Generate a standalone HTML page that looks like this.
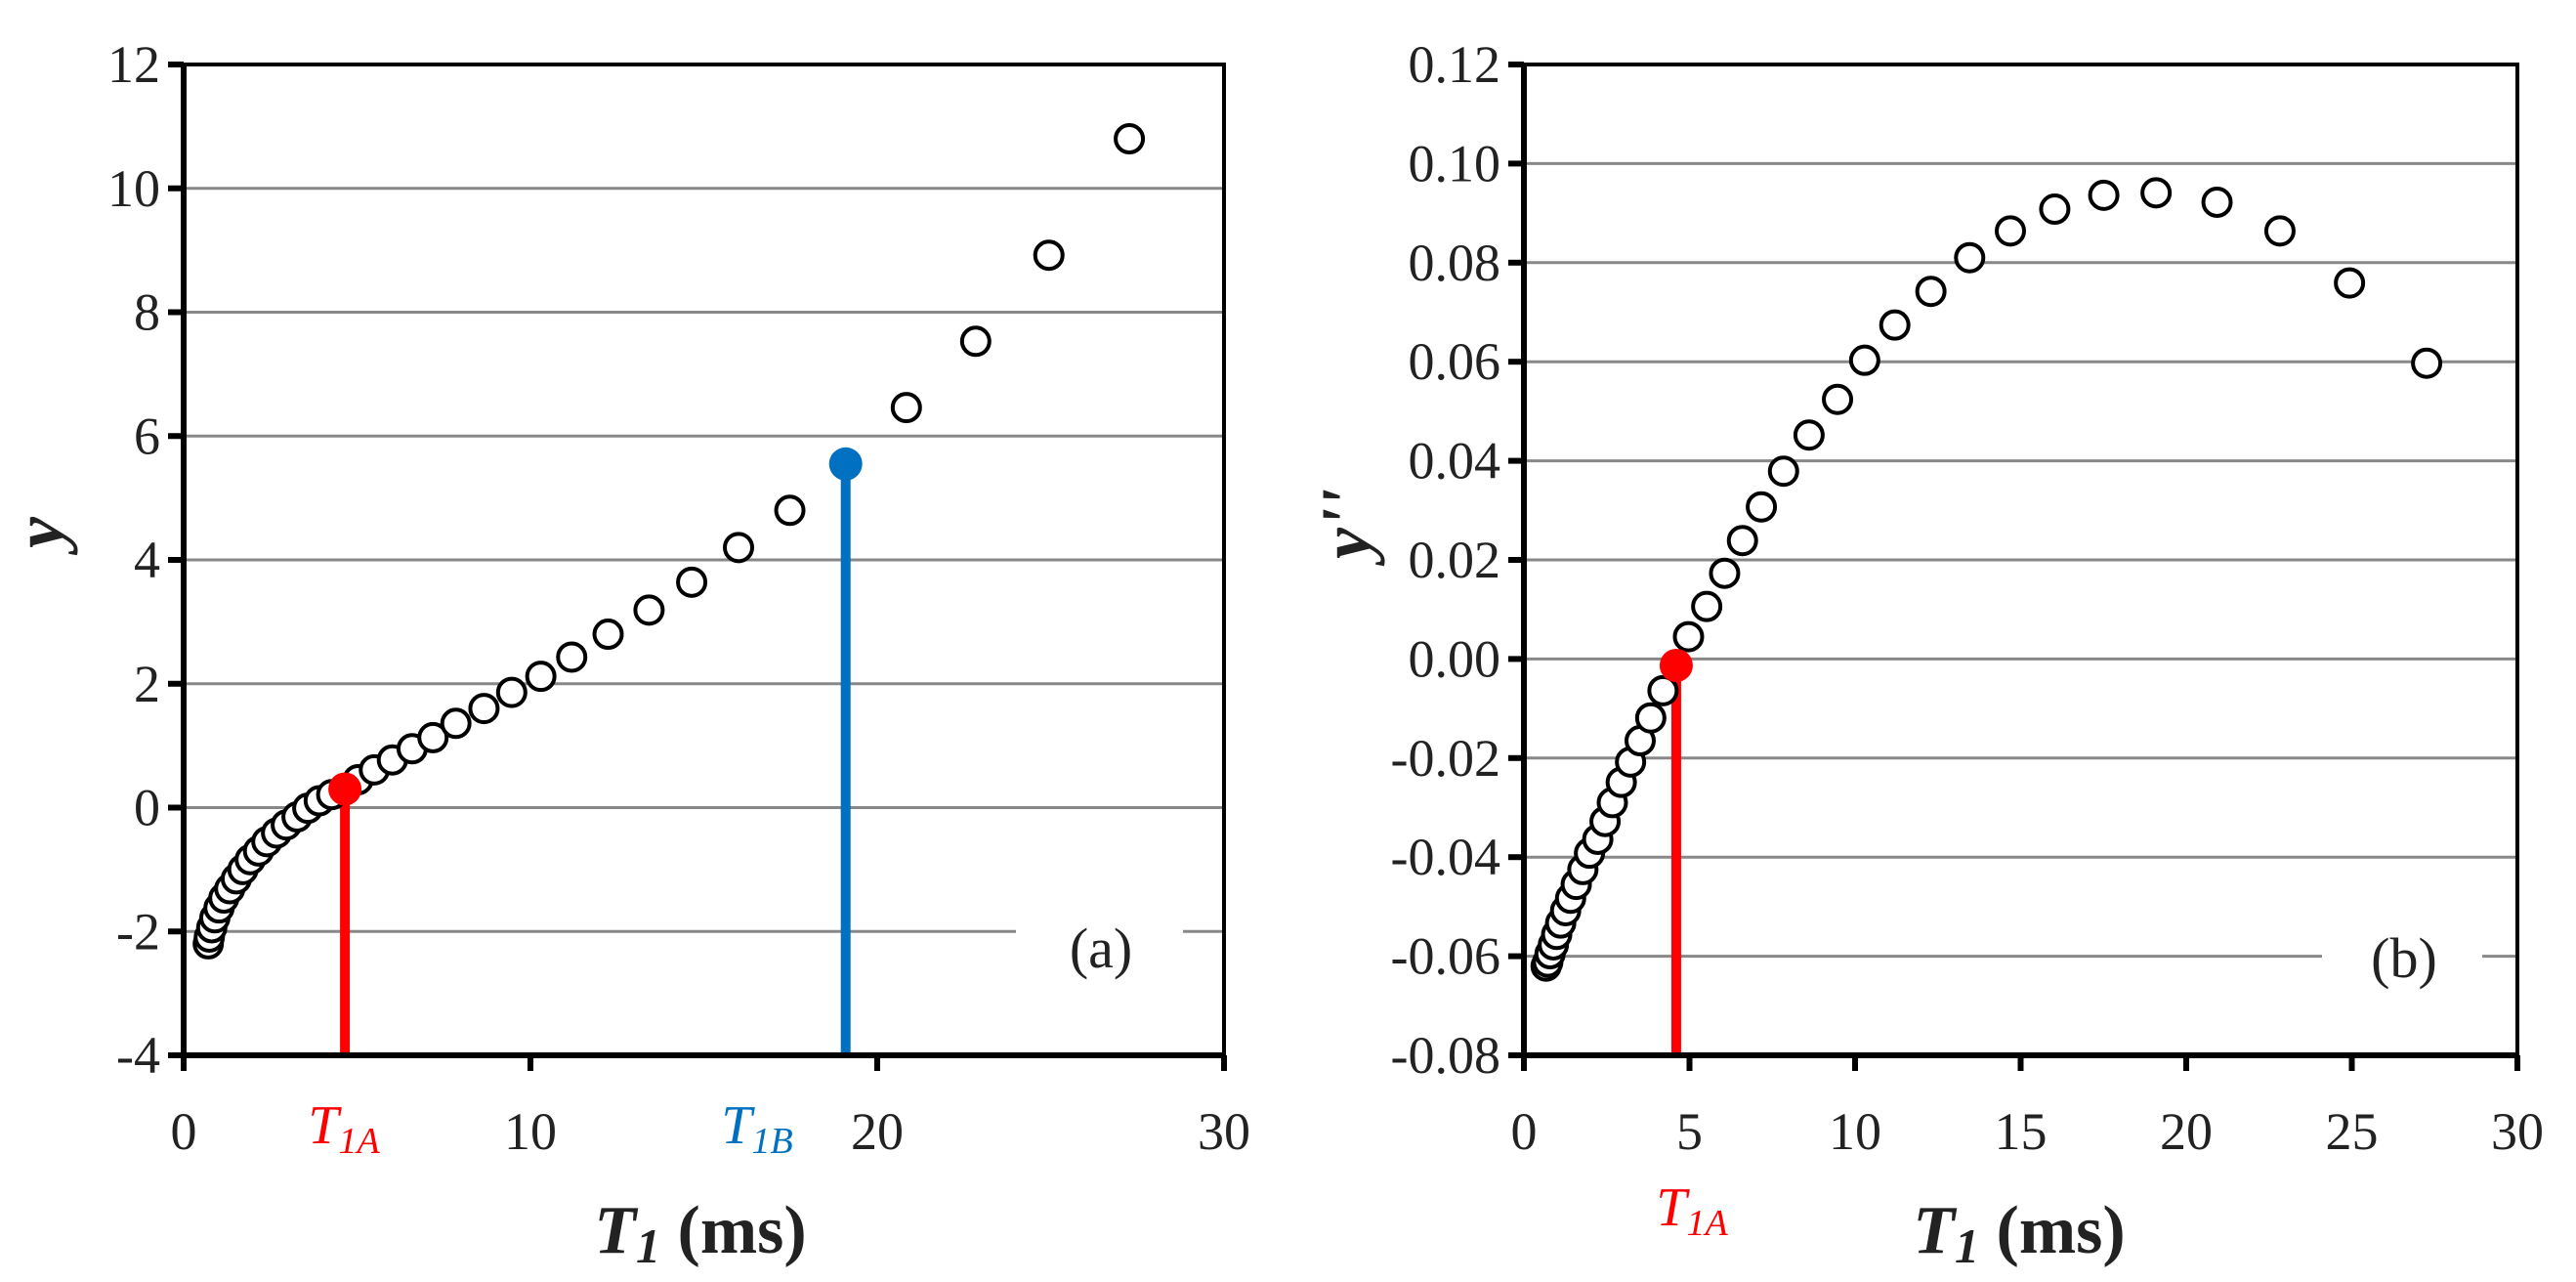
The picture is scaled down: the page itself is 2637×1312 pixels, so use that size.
<!DOCTYPE html>
<html><head><meta charset="utf-8"><style>
html,body{margin:0;padding:0;background:#fff;}
svg{display:block;font-family:"Liberation Serif",serif;}
</style></head><body>
<svg id="fig" width="2637" height="1312" viewBox="0 0 2637 1312" xmlns="http://www.w3.org/2000/svg"></svg>
<script>
// Chart (a) data
const aT = [0.71,0.74,0.81,0.9,1.02,1.16,1.33,1.52,1.71,1.92,2.16,2.4,2.68,2.96,3.27,3.58,3.91,4.27,5.03,5.5,6.02,6.59,7.19,7.85,8.66,9.46,10.3,11.19,12.24,13.42,14.65,16.0,17.48,20.84,22.84,24.95,27.27];
const aY = [-2.2,-2.09,-1.94,-1.78,-1.62,-1.46,-1.31,-1.15,-1.0,-0.84,-0.7,-0.55,-0.41,-0.28,-0.15,-0.01,0.11,0.21,0.45,0.61,0.77,0.95,1.13,1.36,1.6,1.86,2.12,2.43,2.8,3.19,3.64,4.2,4.8,6.46,7.53,8.92,10.8];
const aRedT = [4.65], aRedY = [0.30];
const aBlueT = [19.09], aBlueY = [5.55];
const aYTicks = [-4,-2,0,2,4,6,8,10,12];
const aXTicks = [0,10,20,30];
// Chart (b) data
const bT = [0.67,0.72,0.79,0.89,0.99,1.11,1.26,1.41,1.58,1.78,1.98,2.23,2.45,2.67,2.94,3.22,3.51,3.83,4.2,4.97,5.52,6.06,6.6,7.17,7.84,8.61,9.47,10.29,11.2,12.29,13.46,14.69,16.03,17.51,19.09,20.93,22.83,24.93,27.26];
const bY = [-0.062,-0.0612,-0.0595,-0.0577,-0.0556,-0.0533,-0.0508,-0.0483,-0.0455,-0.0425,-0.0392,-0.0364,-0.0328,-0.029,-0.0249,-0.0208,-0.0165,-0.0119,-0.0064,0.0045,0.0106,0.0173,0.0239,0.0307,0.0379,0.0452,0.0524,0.0603,0.0674,0.0742,0.081,0.0864,0.0908,0.0936,0.0941,0.0922,0.0864,0.0759,0.0597];
const bRedT = [4.6], bRedY = [-0.0013];
const bYTicks = [-0.08,-0.06,-0.04,-0.02,0,0.02,0.04,0.06,0.08,0.10,0.12];
const bXTicks = [0,5,10,15,20,25,30];

const NS="http://www.w3.org/2000/svg";
const svg=document.getElementById('fig');
function mk(tag,attrs,parent){const e=document.createElementNS(NS,tag);for(const k in attrs)e.setAttribute(k,attrs[k]);(parent||svg).appendChild(e);return e;}

function chart(cfg){
  const g=mk('g',{});
  
  
  const X=v=>cfg.x0+(v-cfg.xmin)/(cfg.xmax-cfg.xmin)*(cfg.x1-cfg.x0);
  const Y=v=>cfg.y0-(v-cfg.ymin)/(cfg.ymax-cfg.ymin)*(cfg.y0-cfg.y1);
  cfg.yTicks.forEach((t,i)=>{
    if(i===0||i===cfg.yTicks.length-1)return;
    const yy=Y(t);
    if(Math.abs(t-cfg.gapAt)<1e-9){
      let l=mk('line',{x1:cfg.x0,x2:cfg.gap[0],y1:yy,y2:yy,stroke:'#888','stroke-width':3},g);
      
      
      l=mk('line',{x1:cfg.gap[1],x2:cfg.x1,y1:yy,y2:yy,stroke:'#888','stroke-width':3},g);
      
      
    } else {
      const l=mk('line',{x1:cfg.x0,x2:cfg.x1,y1:yy,y2:yy,stroke:'#888','stroke-width':3},g);
      
      
    }
  });
  const br=mk('path',{d:`M${cfg.x0} ${cfg.y1}H${cfg.x1}V${cfg.y0}`,fill:'none',stroke:'#000','stroke-width':4},g);
  
  
  cfg.yTicks.forEach(t=>{
    const yy=Y(t);
    const tk=mk('line',{x1:cfg.x0-16,x2:cfg.x0,y1:yy,y2:yy,stroke:'#000','stroke-width':6},g);
    
    
    const tx=mk('text',{x:cfg.x0-24,y:yy+18,'text-anchor':'end','font-size':54,fill:'#222'},g);
    
    
    tx.textContent=cfg.yFmt(t);
  });
  cfg.xTicks.forEach(t=>{
    const xx=X(t);
    const tk=mk('line',{x1:xx,x2:xx,y1:cfg.y0,y2:cfg.y0+16,stroke:'#000','stroke-width':6},g);
    
    
    const tx=mk('text',{x:xx,y:cfg.y0+96,'text-anchor':'middle','font-size':54,fill:'#222'},g);
    
    
    tx.textContent=t;
  });
  cfg.stems.forEach(s=>{
    s.t.forEach((tv,i)=>{
      const st=mk('line',{x1:X(tv),x2:X(tv),y1:cfg.y0,y2:Y(s.y[i]),stroke:s.color,'stroke-width':10},g);
      
      
    });
  });
  const ax=mk('path',{d:`M${cfg.x0} ${cfg.y1-2}V${cfg.y0}H${cfg.x1+2}`,fill:'none',stroke:'#000','stroke-width':6},g);
  
  
  cfg.T.forEach((tv,i)=>{
    const c=mk('circle',{cx:X(tv),cy:Y(cfg.V[i]),r:14,fill:'#fff',stroke:'#000','stroke-width':4},g);
    
    
  });
  cfg.stems.forEach(s=>{
    s.t.forEach((tv,i)=>{
      const c=mk('circle',{cx:X(tv),cy:Y(s.y[i]),r:17,fill:s.color},g);
      
      
    });
  });
  return g;
}

chart({name:'chart-a',x0:188,x1:1253,y0:1080,y1:66,xmin:0,xmax:30,ymin:-4,ymax:12,
  yTicks:aYTicks,xTicks:aXTicks,yFmt:t=>String(t),T:aT,V:aY,gapAt:-2,gap:[1040,1211],
  stems:[{name:'t1a',t:aRedT,y:aRedY,color:'#ff0000'},{name:'t1b',t:aBlueT,y:aBlueY,color:'#0070c0'}]});
chart({name:'chart-b',x0:1560,x1:2577,y0:1080,y1:66,xmin:0,xmax:30,ymin:-0.08,ymax:0.12,
  yTicks:bYTicks,xTicks:bXTicks,yFmt:t=>t.toFixed(2),T:bT,V:bY,gapAt:-0.06,gap:[2377,2541],
  stems:[{name:'t1a',t:bRedT,y:bRedY,color:'#ff0000'}]});
</script>
<svg style="position:absolute;left:0;top:0" width="2637" height="1312">
  <g font-family="Liberation Serif, serif">
    <text x="1127" y="990" font-size="58" text-anchor="middle" fill="#222">(a)</text>
    <text x="2461" y="1000" font-size="58" text-anchor="middle" fill="#222">(b)</text>
    <text x="352" y="1170" font-size="56" font-style="italic" text-anchor="middle" fill="#ff0000">T<tspan font-size="38" dy="10">1A</tspan></text>
    <text x="775" y="1170" font-size="56" font-style="italic" text-anchor="middle" fill="#0070c0">T<tspan font-size="38" dy="10">1B</tspan></text>
    <text x="1732" y="1254" font-size="56" font-style="italic" text-anchor="middle" fill="#ff0000">T<tspan font-size="38" dy="10">1A</tspan></text>
    <text x="717" y="1282" font-size="70" font-weight="bold" text-anchor="middle" fill="#222"><tspan font-style="italic">T</tspan><tspan font-style="italic" font-size="50" dy="10">1</tspan><tspan dy="-10"> (ms)</tspan></text>
    <text x="2067" y="1282" font-size="70" font-weight="bold" text-anchor="middle" fill="#222"><tspan font-style="italic">T</tspan><tspan font-style="italic" font-size="50" dy="10">1</tspan><tspan dy="-10"> (ms)</tspan></text>
    <text transform="translate(64,545) rotate(-90)" font-size="72" font-weight="bold" font-style="italic" text-anchor="middle" fill="#222">y</text>
    <text transform="translate(1402,536) rotate(-90)" font-size="72" font-weight="bold" font-style="italic" text-anchor="middle" fill="#222">y''</text>
  </g>
</svg>
</body></html>
